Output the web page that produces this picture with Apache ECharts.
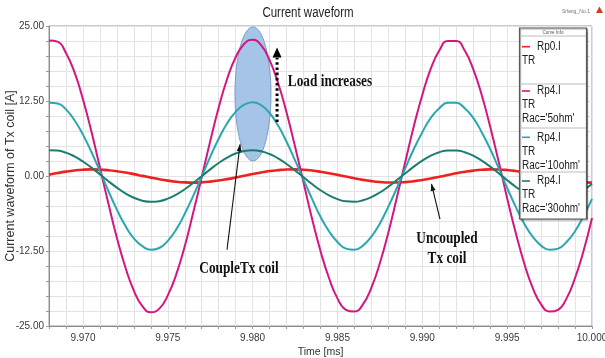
<!DOCTYPE html>
<html>
<head>
<meta charset="utf-8">
<script src="https://cdn.jsdelivr.net/npm/echarts@6/dist/echarts.min.js"></script>
<style>
  html, body { margin: 0; padding: 0; background: #ffffff; }
  #chart { width: 605px; height: 358px; }
</style>
</head>
<body>
<div id="chart"></div>
<script>
// Sample times [ms]
const timeMs = [
  9.9680, 9.9685, 9.9690, 9.9695, 9.9700, 9.9705, 9.9710, 9.9715, 9.9720, 9.9725,
  9.9730, 9.9735, 9.9740, 9.9745, 9.9750, 9.9755, 9.9760, 9.9765, 9.9770, 9.9775,
  9.9780, 9.9785, 9.9790, 9.9795, 9.9800, 9.9805, 9.9810, 9.9815, 9.9820, 9.9825,
  9.9830, 9.9835, 9.9840, 9.9845, 9.9850, 9.9855, 9.9860, 9.9865, 9.9870, 9.9875,
  9.9880, 9.9885, 9.9890, 9.9895, 9.9900, 9.9905, 9.9910, 9.9915, 9.9920, 9.9925,
  9.9930, 9.9935, 9.9940, 9.9945, 9.9950, 9.9955, 9.9960, 9.9965, 9.9970, 9.9975,
  9.9980, 9.9985, 9.9990, 9.9995, 10.0000
];

// Rp0.I  (uncoupled Tx coil)
const rp0 = [
  0.21, 0.49, 0.73, 0.92, 1.05, 1.10, 1.07, 0.97, 0.80, 0.58,
  0.31, 0.02, -0.27, -0.54, -0.77, -0.95, -1.06, -1.10, -1.06, -0.94,
  -0.76, -0.52, -0.25, 0.04, 0.33, 0.59, 0.82, 0.98, 1.08, 1.10,
  1.04, 0.91, 0.71, 0.47, 0.19, -0.10, -0.39, -0.65, -0.86, -1.01,
  -1.09, -1.09, -1.02, -0.87, -0.67, -0.41, -0.13, 0.16, 0.45, 0.69,
  0.89, 1.03, 1.10, 1.08, 0.99, 0.83, 0.61, 0.35, 0.07, -0.23,
  -0.50, -0.74, -0.93, -1.05, -1.10
];

// Rp4.I, Rac='5ohm'
const rp4Rac5 = [
  22.6, 22.4, 20.5, 17.3, 12.8, 7.4, 1.4, -4.6, -10.3, -15.2,
  -19.1, -21.7, -22.7, -22.1, -19.9, -16.4, -11.7, -6.1, -0.2, 5.8,
  11.4, 16.2, 19.8, 22.0, 22.7, 21.8, 19.3, 15.5, 10.6, 4.9,
  -1.1, -7.1, -12.5, -17.0, -20.4, -22.3, -22.6, -21.4, -18.6, -14.5,
  -9.4, -3.6, 2.4, 8.3, 13.5, 17.9, 20.9, 22.5, 22.5, 20.9,
  17.8, 13.5, 8.2, 2.4, -3.7, -9.4, -14.5, -18.6, -21.4, -22.6,
  -22.3, -20.4, -17.0, -12.5, -7.0
];

// Rp4.I, Rac='10ohm'
const rp4Rac10 = [
  12.2, 12.1, 11.1, 9.3, 6.9, 4.0, 0.8, -2.5, -5.6, -8.3,
  -10.4, -11.7, -12.3, -12.0, -10.8, -8.9, -6.3, -3.3, -0.1, 3.2,
  6.2, 8.8, 10.7, 11.9, 12.3, 11.8, 10.5, 8.4, 5.7, 2.6,
  -0.6, -3.8, -6.8, -9.2, -11.0, -12.1, -12.3, -11.6, -10.1, -7.9,
  -5.1, -2.0, 1.3, 4.5, 7.3, 9.7, 11.3, 12.2, 12.2, 11.3,
  9.7, 7.3, 4.5, 1.3, -2.0, -5.1, -7.9, -10.1, -11.6, -12.3,
  -12.1, -11.0, -9.2, -6.7, -3.8
];

// Rp4.I, Rac='30ohm'
const rp4Rac30 = [
  4.28, 4.23, 3.89, 3.27, 2.42, 1.39, 0.27, -0.87, -1.94, -2.89,
  -3.62, -4.11, -4.30, -4.19, -3.78, -3.10, -2.21, -1.16, -0.03, 1.10,
  2.16, 3.06, 3.75, 4.17, 4.30, 4.12, 3.66, 2.93, 2.00, 0.93,
  -0.21, -1.34, -2.37, -3.23, -3.86, -4.22, -4.29, -4.05, -3.52, -2.75,
  -1.78, -0.69, 0.45, 1.56, 2.56, 3.38, 3.96, 4.26, 4.26, 3.96,
  3.38, 2.56, 1.56, 0.45, -0.70, -1.79, -2.76, -3.53, -4.05, -4.29,
  -4.22, -3.86, -3.22, -2.36, -1.33
];

// Legend entries: text lines per curve
const curveLabels = [
  ['Rp0.I', 'TR'],
  ['Rp4.I', 'TR', "Rac='5ohm'"],
  ['Rp4.I', 'TR', "Rac='10ohm'"],
  ['Rp4.I', 'TR', "Rac='30ohm'"]
];
const curveValues = [rp0, rp4Rac5, rp4Rac10, rp4Rac30];
const curveColors = ['#ef2020', '#d3177e', '#2ba7b0', '#1c7d6e'];
const curveWidths = [2.6, 2, 2, 2];

const chartTitle = 'Current waveform';
const xAxisName = 'Time [ms]';
const yAxisName = 'Current waveform of Tx coil [A]';

const sans = '"Liberation Sans", Arial, sans-serif';
const serifBold = 'bold 17.5px "Liberation Serif", "Times New Roman", serif';

const chart = echarts.init(document.getElementById('chart'), null, { renderer: 'canvas' });

const series = curveValues.map((vals, i) => ({
  type: 'line',
  name: curveLabels[i].join(' '),
  data: timeMs.map((t, k) => [t, vals[k]]),
  showSymbol: false,
  smooth: true,
  z: 3,
  lineStyle: { color: curveColors[i], width: curveWidths[i] },
  itemStyle: { color: curveColors[i] },
  animation: false
}));

chart.setOption({
  animation: false,
  grid: {
    left: 49, right: 13, top: 26, bottom: 32,
    containLabel: false, outerBoundsMode: 'none',
    show: true, borderColor: '#999999', borderWidth: 1
  },
  xAxis: {
    type: 'value', min: 9.968, max: 10.0, interval: 0.001,
    name: xAxisName, nameLocation: 'middle', nameGap: 21, nameMoveOverlap: false,
    nameTextStyle: { fontFamily: sans, fontSize: 10.5, color: '#333' },
    axisLine: { show: true, onZero: false, lineStyle: { color: '#8c8c8c', width: 1 } },
    axisTick: { show: true, length: 3, lineStyle: { color: '#999' } },
    axisLabel: {
      fontFamily: sans, fontSize: 10, color: '#3a3a3a', margin: 7,
      formatter: v => (Math.round(v * 1000) % 5 === 0 ? v.toFixed(3) : '')
    },
    splitLine: { show: true, lineStyle: { color: '#e3e3e3', width: 1 } }
  },
  yAxis: {
    type: 'value', min: -25, max: 25, interval: 2.5,
    name: yAxisName, nameLocation: 'middle', nameGap: 32, nameRotate: 90, nameMoveOverlap: false,
    nameTextStyle: { fontFamily: sans, fontSize: 12.5, color: '#333' },
    axisLine: { show: true, lineStyle: { color: '#8c8c8c', width: 1 } },
    axisTick: { show: true, length: 3, lineStyle: { color: '#999' } },
    axisLabel: {
      fontFamily: sans, fontSize: 10, color: '#3a3a3a', margin: 5,
      formatter: v => (Math.abs(Math.round(v * 10)) % 125 === 0 ? v.toFixed(2) : '')
    },
    splitLine: { show: true, lineStyle: { color: '#e3e3e3', width: 1 } }
  },
  series: series
});

// Annotation anchors in data coordinates
const toPx = (t, v) => chart.convertToPixel({ gridIndex: 0 }, [t, v]);
const ellC = toPx(9.98002, 13.67);
const dotBottom = toPx(9.98144, 9.0);
const dotTop = toPx(9.98144, 19.7);
const dotTip = toPx(9.98144, 21.4);
const coupleFrom = toPx(9.97849, -12.3);
const coupleTo = toPx(9.97926, 5.3);
const uncFrom = toPx(9.99104, -7.2);
const uncTo = toPx(9.99054, -1.3);

function arrowHead(from, to, len, half) {
  const dx = to[0] - from[0], dy = to[1] - from[1];
  const d = Math.sqrt(dx * dx + dy * dy);
  const ux = dx / d, uy = dy / d;
  const bx = to[0] - ux * len, by = to[1] - uy * len;
  return [[to[0], to[1]], [bx - uy * half, by + ux * half], [bx + uy * half, by - ux * half]];
}

// Condensed text: drawn at (x, y) and squeezed horizontally around that point
function squeezedText(text, x, y, font, fill, align, sx, z) {
  return {
    type: 'text', x: x, y: y, scaleX: sx, z: z,
    style: { text: text, x: 0, y: 0, font: font, fill: fill,
      textAlign: align, align: align, textVerticalAlign: 'middle', verticalAlign: 'middle' }
  };
}
const boldLabel = (text, x, y) => squeezedText(text, x, y, serifBold, '#111', 'center', 0.76, 20);

// Legend box ("Curve Info")
const legendEls = [];
const lgX = 519.5, lgY = 28, lgW = 67, lgH = 191;
legendEls.push({ type: 'rect', z: 30, shape: { x: lgX, y: lgY, width: lgW, height: lgH },
  style: { fill: '#fff', stroke: '#5a5a5a', lineWidth: 1.2, shadowColor: 'rgba(0,0,0,0.35)', shadowOffsetX: 1, shadowOffsetY: 1, shadowBlur: 1 } });
legendEls.push(squeezedText('Curve Info', lgX + lgW / 2, 32.5, '5px ' + sans, '#555', 'center', 0.9, 31));
const rowStarts = [46.7, 91, 137.3, 181];
const separators = [36, 84, 128, 172];
separators.forEach(sy => legendEls.push({ type: 'line', z: 31, shape: { x1: lgX + 0.5, y1: sy, x2: lgX + lgW - 0.5, y2: sy },
  style: { stroke: '#bdbdbd', lineWidth: 1 } }));
curveLabels.forEach((lines, i) => {
  const y0 = rowStarts[i];
  legendEls.push({ type: 'line', z: 31, shape: { x1: 522, y1: y0, x2: 530, y2: y0 },
    style: { stroke: curveColors[i], lineWidth: 1.6 } });
  lines.forEach((ln, j) => {
    legendEls.push(squeezedText(ln, j === 0 ? 537 : 522, y0 + j * 14, '12.5px ' + sans, '#222', 'left', 0.8, 31));
  });
});

chart.setOption({
  graphic: [
    // title and header
    squeezedText(chartTitle, 308, 13, '14px ' + sans, '#222', 'center', 0.82, 20),
    squeezedText('Sifang_No.1', 576, 11, '6px ' + sans, '#777', 'center', 0.85, 20),
    { type: 'polygon', z: 20, shape: { points: [[599.5, 6.5], [603, 13], [596, 13]] }, style: { fill: '#d23a2a' } },

    // highlighted peak region
    { type: 'ellipse', z: 1, shape: { cx: ellC[0], cy: ellC[1], rx: 18, ry: 67 },
      style: { fill: '#a6c3e8', stroke: '#7d9cc6', lineWidth: 1 } },

    // "Load increases" dotted arrow
    { type: 'line', z: 20, shape: { x1: dotBottom[0], y1: dotBottom[1], x2: dotTop[0], y2: dotTop[1] },
      style: { stroke: '#000', lineWidth: 3, lineDash: [2.6, 2.6] } },
    { type: 'polygon', z: 20, shape: { points: arrowHead(dotBottom, dotTip, 10, 4.5) }, style: { fill: '#000' } },
    boldLabel('Load increases', 330, 81),

    // "CoupleTx coil" pointer
    { type: 'line', z: 20, shape: { x1: coupleFrom[0], y1: coupleFrom[1], x2: coupleTo[0], y2: coupleTo[1] },
      style: { stroke: '#111', lineWidth: 1.1 } },
    { type: 'polygon', z: 20, shape: { points: arrowHead(coupleFrom, coupleTo, 7, 2.5) }, style: { fill: '#111' } },
    boldLabel('CoupleTx coil', 239, 268),

    // "Uncoupled Tx coil" pointer
    { type: 'line', z: 20, shape: { x1: uncFrom[0], y1: uncFrom[1], x2: uncTo[0], y2: uncTo[1] },
      style: { stroke: '#111', lineWidth: 1.1 } },
    { type: 'polygon', z: 20, shape: { points: arrowHead(uncFrom, uncTo, 7, 2.5) }, style: { fill: '#111' } },
    boldLabel('Uncoupled', 447, 238),
    boldLabel('Tx coil', 447, 258)
  ].concat(legendEls)
});
</script>
</body>
</html>
